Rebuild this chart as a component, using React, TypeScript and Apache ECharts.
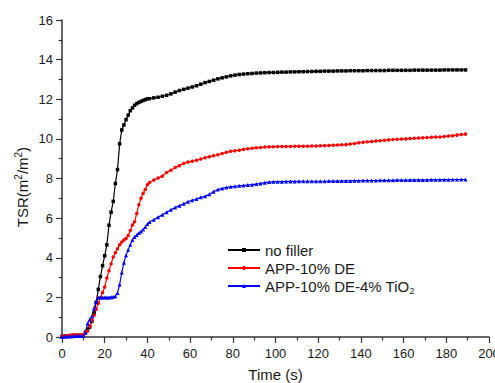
import React, { useEffect, useRef } from "react";
import * as echarts from "echarts";

const TIME_EARLY = [0, 1, 2, 3, 4, 5, 6, 7, 8, 9, 10, 11, 12, 13, 14, 15, 16, 17, 18, 19, 20, 21, 22, 23, 24, 25, 26, 27, 28, 29, 30, 31, 32, 33, 34, 35, 36, 37, 38, 39, 40];
const TIME_LATE = [41, 43, 45, 47, 49, 51, 53, 55, 57, 59, 61, 63, 65, 67, 69, 71, 73, 75, 77, 79, 81, 83, 85, 87, 89, 91, 93, 95, 97, 99, 101, 103, 105, 107, 109, 111, 113, 115, 117, 119, 121, 123, 125, 127, 129, 131, 133, 135, 137, 139, 141, 143, 145, 147, 149, 151, 153, 155, 157, 159, 161, 163, 165, 167, 169, 171, 173, 175, 177, 179, 181, 183, 185, 187, 189];

const NO_FILLER = [
  0.02, 0.04, 0.05, 0.06, 0.07, 0.08, 0.08, 0.08, 0.08, 0.08, 0.1, 0.25, 0.4, 0.5, 0.8, 1.2, 1.75, 2.4, 3.05, 3.6, 4.1,
  4.65, 5.64, 6.3, 6.85, 7.75, 8.45, 9.75, 10.45, 10.7, 10.97, 11.2, 11.42, 11.56, 11.7, 11.78, 11.84, 11.89, 11.94, 11.98, 12.02,
  12.03, 12.07, 12.1, 12.15, 12.2, 12.27, 12.36, 12.44, 12.5, 12.56, 12.62, 12.68, 12.76, 12.84, 12.9, 12.96, 13.03, 13.08, 13.13, 13.18,
  13.22, 13.25, 13.27, 13.29, 13.3, 13.32, 13.33, 13.34, 13.35, 13.35, 13.36, 13.37, 13.37, 13.38, 13.38, 13.39, 13.39, 13.4, 13.4, 13.41,
  13.41, 13.42, 13.42, 13.42, 13.43, 13.43, 13.43, 13.44, 13.44, 13.44, 13.44, 13.45, 13.45, 13.45, 13.45, 13.45, 13.46, 13.46, 13.46, 13.46,
  13.46, 13.46, 13.47, 13.47, 13.47, 13.47, 13.47, 13.47, 13.47, 13.48, 13.48, 13.48, 13.48, 13.48, 13.48,
];

const APP_DE = [
  0.02, 0.04, 0.06, 0.08, 0.09, 0.1, 0.1, 0.1, 0.1, 0.1, 0.12, 0.2, 0.3, 0.55, 0.84, 1.1, 1.4, 1.7, 1.98, 2.25, 2.52,
  2.98, 3.35, 3.7, 4.04, 4.25, 4.45, 4.66, 4.8, 4.9, 4.97, 5.12, 5.38, 5.65, 5.82, 6.23, 6.68, 7.0, 7.25, 7.45, 7.68,
  7.8, 7.92, 8.02, 8.12, 8.3, 8.42, 8.55, 8.65, 8.76, 8.83, 8.87, 8.92, 8.98, 9.05, 9.1, 9.15, 9.2, 9.26, 9.32, 9.37,
  9.4, 9.43, 9.47, 9.5, 9.53, 9.55, 9.57, 9.59, 9.6, 9.6, 9.61, 9.62, 9.62, 9.62, 9.63, 9.63, 9.63, 9.63, 9.64, 9.64,
  9.65, 9.66, 9.67, 9.68, 9.69, 9.7, 9.71, 9.74, 9.77, 9.8, 9.83, 9.85, 9.87, 9.89, 9.91, 9.93, 9.95, 9.97, 9.98, 9.99,
  10.0, 10.02, 10.03, 10.04, 10.06, 10.07, 10.08, 10.09, 10.1, 10.12, 10.14, 10.16, 10.19, 10.22, 10.24,
];

const APP_DE_TIO2 = [
  0.0, 0.01, 0.02, 0.03, 0.04, 0.04, 0.05, 0.05, 0.05, 0.05, 0.08, 0.22, 0.68, 0.88, 1.05, 1.45, 1.78, 1.99, 2.0, 2.0, 2.0,
  2.0, 2.0, 2.01, 2.02, 2.06, 2.22, 2.65, 3.25, 3.75, 4.12, 4.4, 4.65, 4.9, 5.05, 5.15, 5.25, 5.33, 5.42, 5.55, 5.7,
  5.8, 5.92, 6.05, 6.17, 6.3, 6.42, 6.53, 6.63, 6.72, 6.83, 6.9, 6.96, 7.05, 7.1, 7.2, 7.33, 7.44, 7.5, 7.55, 7.58,
  7.61, 7.63, 7.65, 7.67, 7.69, 7.72, 7.75, 7.79, 7.82, 7.83, 7.84, 7.84, 7.85, 7.85, 7.85, 7.86, 7.86, 7.86, 7.86, 7.86,
  7.86, 7.86, 7.87, 7.87, 7.87, 7.88, 7.88, 7.88, 7.89, 7.89, 7.9, 7.9, 7.9, 7.9, 7.91, 7.91, 7.91, 7.91, 7.92, 7.92,
  7.92, 7.92, 7.93, 7.93, 7.93, 7.93, 7.94, 7.94, 7.94, 7.94, 7.94, 7.95, 7.95, 7.95, 7.95,
];

const SERIES_NAMES = ["no filler", "APP-10% DE", "APP-10% DE-4% TiO2"];
const SERIES_COLORS = ["#000000", "#ff0000", "#0000ff"];
const SERIES_SYMBOLS = ["rect", "circle", "triangle"];
const SERIES_VALUES = [NO_FILLER, APP_DE, APP_DE_TIO2];

const FONT = "'Liberation Sans', Arial, sans-serif";
const TEXT_COLOR = "#1a1a1a";

export default function App() {
  const ref = useRef<HTMLDivElement>(null);

  useEffect(() => {
    if (!ref.current) return;
    const chart = echarts.init(ref.current, undefined, { renderer: "svg" });
    const times = TIME_EARLY.concat(TIME_LATE);

    const series = SERIES_NAMES.map((name, i) => ({
      name,
      type: "line",
      data: times.map((t, k) => [t, SERIES_VALUES[i][k]]),
      symbol: SERIES_SYMBOLS[i],
      symbolSize: i === 2 ? 4 : 3.5,
      showSymbol: true,
      lineStyle: { color: SERIES_COLORS[i], width: 1.2 },
      itemStyle: { color: SERIES_COLORS[i] },
      emphasis: { disabled: true },
    }));

    const axisCommon = {
      axisLine: { show: true, lineStyle: { color: "#333", width: 1.5 } },
      axisTick: { show: true, length: 6, lineStyle: { color: "#333", width: 1.2 } },
      minorTick: { show: true, splitNumber: 2, length: 3.5, lineStyle: { color: "#333", width: 1.2 } },
      splitLine: { show: false },
      minorSplitLine: { show: false },
      axisLabel: { color: TEXT_COLOR, fontSize: 13, fontFamily: FONT },
    };

    chart.setOption({
      animation: false,
      backgroundColor: "#ffffff",
      grid: { left: 62, right: 6, top: 20, bottom: 46, containLabel: false, outerBoundsMode: "none" },
      xAxis: {
        type: "value",
        min: 0,
        max: 200,
        interval: 20,
        ...axisCommon,
        axisLabel: { ...axisCommon.axisLabel, margin: 10 },
        name: "Time (s)",
        nameLocation: "middle",
        nameGap: 30,
        nameTextStyle: { color: TEXT_COLOR, fontSize: 15, fontFamily: FONT },
      },
      yAxis: {
        type: "value",
        min: 0,
        max: 16,
        interval: 2,
        ...axisCommon,
        axisLabel: { ...axisCommon.axisLabel, margin: 9 },
      },
      legend: {
        show: true,
        orient: "vertical",
        left: 227,
        top: 242,
        padding: 0,
        itemWidth: 32,
        itemHeight: 5,
        itemGap: 2,
        selectedMode: false,
        data: SERIES_NAMES,
        formatter: (name: string) =>
          name === "APP-10% DE-4% TiO2" ? "{a|APP-10% DE-4% TiO}{b|2}" : "{a|" + name + "}",
        textStyle: {
          color: TEXT_COLOR,
          fontFamily: FONT,
          fontSize: 15,
          lineHeight: 16,
          rich: {
            a: { fontSize: 15, lineHeight: 16, fontFamily: FONT, color: TEXT_COLOR },
            b: { fontSize: 9, fontFamily: FONT, color: TEXT_COLOR, padding: [9, 0, 0, 0] },
          },
        },
      },
      graphic: [
        {
          type: "text",
          x: 22,
          y: 187,
          rotation: Math.PI / 2,
          style: {
            text: "{a|TSR(m}{s|2}{a|/m}{s|2}{a|)}",
            align: "center",
            verticalAlign: "middle",
            rich: {
              a: { fontSize: 15, fontFamily: FONT, fill: TEXT_COLOR, color: TEXT_COLOR },
              s: { fontSize: 10, fontFamily: FONT, fill: TEXT_COLOR, color: TEXT_COLOR, padding: [0, 0, 8, 0] },
            },
          },
        },
      ],
      series,
    });

    return () => chart.dispose();
  }, []);

  return (
    <div
      ref={ref}
      style={{ position: "fixed", left: 0, top: 0, width: 495, height: 383 }}
    />
  );
}
